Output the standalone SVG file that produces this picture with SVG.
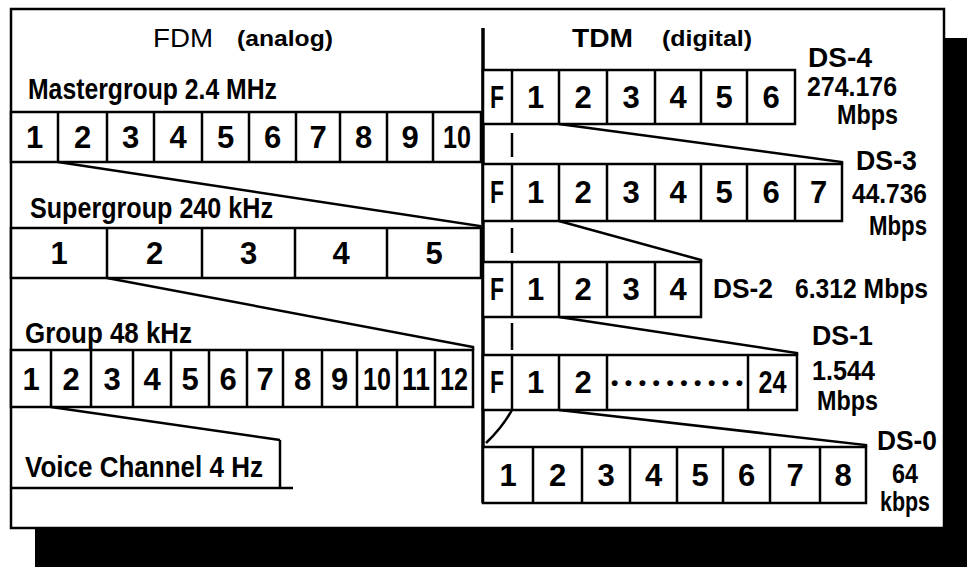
<svg xmlns="http://www.w3.org/2000/svg" width="967" height="567" viewBox="0 0 967 567">
<style>
.t{font-family:"Liberation Sans Narrow","Liberation Sans",Arial,sans-serif;font-weight:bold;fill:#000;font-stretch:condensed}
.d{font-size:31px;text-anchor:middle}
.l{font-size:29px}
.r{font-size:27px}
.h{font-size:26px}
.p{font-size:22px}
.box{fill:#fff;stroke:#000;stroke-width:2.5}
.ln{fill:none;stroke:#000;stroke-width:2.5}
</style>
<rect x="35" y="38" width="932" height="529" fill="#000"/>
<rect x="11" y="9" width="933" height="519" class="box"/>
<line x1="483" y1="28" x2="483" y2="503" stroke="#000" stroke-width="3.5"/>

<g id="fdm-title">
<text class="t h" x="153" y="47" textLength="60" lengthAdjust="spacingAndGlyphs" style="font-weight:normal">FDM</text>
<text class="t p" x="237" y="46" textLength="96" lengthAdjust="spacingAndGlyphs">(analog)</text>
</g>
<g id="tdm-title">
<text class="t h" x="572" y="47" textLength="61" lengthAdjust="spacingAndGlyphs">TDM</text>
<text class="t p" x="662" y="46" textLength="90" lengthAdjust="spacingAndGlyphs">(digital)</text>
</g>

<g id="mastergroup">
<text class="t l" x="28" y="99" textLength="249" lengthAdjust="spacingAndGlyphs">Mastergroup 2.4 MHz</text>
<rect x="11" y="112" width="470" height="50" class="box"/>
<path class="ln" d="M58 112V162M107 112V162M154 112V162M202 112V162M249 112V162M296 112V162M340 112V162M387 112V162M433 112V162"/>
<g class="t d">
<text x="34.5" y="148">1</text><text x="82.5" y="148">2</text><text x="130.5" y="148">3</text><text x="178" y="148">4</text><text x="225.5" y="148">5</text><text x="272.5" y="148">6</text><text x="318" y="148">7</text><text x="363.5" y="148">8</text><text x="410" y="148">9</text><text x="457" y="148" textLength="28" lengthAdjust="spacingAndGlyphs">10</text>
</g>
</g>

<g id="supergroup">
<text class="t l" x="30" y="218" textLength="243" lengthAdjust="spacingAndGlyphs">Supergroup  240 kHz</text>
<rect x="11" y="228" width="470" height="50" class="box"/>
<path class="ln" d="M107 228V278M202 228V278M295 228V278M387 228V278"/>
<g class="t d">
<text x="59" y="264">1</text><text x="154.5" y="264">2</text><text x="248.5" y="264">3</text><text x="341" y="264">4</text><text x="434" y="264">5</text>
</g>
</g>

<g id="group">
<text class="t l" x="25" y="343" textLength="167" lengthAdjust="spacingAndGlyphs">Group  48 kHz</text>
<rect x="11" y="350" width="462" height="57" class="box"/>
<path class="ln" d="M51 350V407M91 350V407M133 350V407M171 350V407M209 350V407M247 350V407M283 350V407M322 350V407M357 350V407M397 350V407M435 350V407"/>
<g class="t d">
<text x="31" y="390">1</text><text x="71" y="390">2</text><text x="112" y="390">3</text><text x="152" y="390">4</text><text x="190" y="390">5</text><text x="228" y="390">6</text><text x="265" y="390">7</text><text x="302.5" y="390">8</text><text x="339.5" y="390">9</text><text x="377" y="390" textLength="28" lengthAdjust="spacingAndGlyphs">10</text><text x="416" y="390" textLength="28" lengthAdjust="spacingAndGlyphs">11</text><text x="454" y="390" textLength="28" lengthAdjust="spacingAndGlyphs">12</text>
</g>
</g>

<g id="voice-channel">
<path class="ln" d="M280 440V488M11 488H293"/>
<text class="t l" x="25" y="477" textLength="238" lengthAdjust="spacingAndGlyphs">Voice Channel  4 Hz</text>
</g>

<g id="ds4">
<rect x="483" y="70" width="312" height="54" class="box"/>
<path class="ln" d="M512 70V124M559 70V124M607 70V124M655 70V124M701 70V124M747 70V124"/>
<g class="t d">
<text x="497" y="108" textLength="14" lengthAdjust="spacingAndGlyphs">F</text><text x="535.5" y="108">1</text><text x="583" y="108">2</text><text x="631" y="108">3</text><text x="678" y="108">4</text><text x="724" y="108">5</text><text x="771" y="108">6</text>
</g>
<g class="t r">
<text x="808" y="67" textLength="64" lengthAdjust="spacingAndGlyphs">DS-4</text>
<text x="807" y="96" textLength="90" lengthAdjust="spacingAndGlyphs">274.176</text>
<text x="837" y="124" textLength="61" lengthAdjust="spacingAndGlyphs">Mbps</text>
</g>
</g>

<g id="ds3">
<rect x="483" y="164" width="359" height="57" class="box"/>
<path class="ln" d="M512 164V221M559 164V221M607 164V221M655 164V221M701 164V221M747 164V221M795 164V221"/>
<g class="t d">
<text x="497" y="203" textLength="14" lengthAdjust="spacingAndGlyphs">F</text><text x="535.5" y="203">1</text><text x="583" y="203">2</text><text x="631" y="203">3</text><text x="678" y="203">4</text><text x="724" y="203">5</text><text x="771" y="203">6</text><text x="818.5" y="203">7</text>
</g>
<g class="t r">
<text x="856" y="170" textLength="61" lengthAdjust="spacingAndGlyphs">DS-3</text>
<text x="852" y="203" textLength="75" lengthAdjust="spacingAndGlyphs">44.736</text>
<text x="869" y="235" textLength="58" lengthAdjust="spacingAndGlyphs">Mbps</text>
</g>
</g>

<g id="ds2">
<rect x="483" y="262" width="218" height="55" class="box"/>
<path class="ln" d="M512 262V317M559 262V317M607 262V317M655 262V317"/>
<g class="t d">
<text x="497" y="300" textLength="14" lengthAdjust="spacingAndGlyphs">F</text><text x="535.5" y="300">1</text><text x="583" y="300">2</text><text x="631" y="300">3</text><text x="678" y="300">4</text>
</g>
<g class="t r">
<text x="713" y="298" textLength="60" lengthAdjust="spacingAndGlyphs">DS-2</text>
<text x="795" y="298" textLength="133" lengthAdjust="spacingAndGlyphs">6.312 Mbps</text>
</g>
</g>

<g id="ds1">
<rect x="483" y="355" width="314" height="55" class="box"/>
<path class="ln" d="M512 355V410M559 355V410M607 355V410M748 355V410"/>
<g class="t d">
<text x="497" y="393" textLength="14" lengthAdjust="spacingAndGlyphs">F</text><text x="535.5" y="393">1</text><text x="583" y="393">2</text><text x="772.5" y="393" textLength="28" lengthAdjust="spacingAndGlyphs">24</text>
</g>
<text class="t" x="611" y="390" style="font-size:21px" textLength="132" lengthAdjust="spacing">••••••••••</text>
<g class="t r">
<text x="812" y="345" textLength="61" lengthAdjust="spacingAndGlyphs">DS-1</text>
<text x="812" y="380" textLength="63" lengthAdjust="spacingAndGlyphs">1.544</text>
<text x="817" y="410" textLength="61" lengthAdjust="spacingAndGlyphs">Mbps</text>
</g>
</g>

<g id="ds0">
<rect x="483" y="447" width="383" height="56" class="box"/>
<path class="ln" d="M533 447V503M582 447V503M630 447V503M677 447V503M723 447V503M770 447V503M820 447V503"/>
<g class="t d">
<text x="508" y="486">1</text><text x="557.5" y="486">2</text><text x="606" y="486">3</text><text x="653.5" y="486">4</text><text x="700" y="486">5</text><text x="746.5" y="486">6</text><text x="795" y="486">7</text><text x="843" y="486">8</text>
</g>
<g class="t r">
<text x="877" y="450" textLength="60" lengthAdjust="spacingAndGlyphs">DS-0</text>
<text x="892" y="483" textLength="26" lengthAdjust="spacingAndGlyphs">64</text>
<text x="880" y="511" textLength="50" lengthAdjust="spacingAndGlyphs">kbps</text>
</g>
</g>

<g id="connectors" class="ln">
<path d="M58 162L480 226V228"/>
<path d="M107 278L473 347V350"/>
<path d="M51 407L280 440"/>
<path d="M559 124L842 162V164"/>
<path d="M559 221L701 260V262"/>
<path d="M559 317L797 353V355"/>
<path d="M559 410L866 445V447"/>
<path d="M512 133V157M512 228V253M512 323V350"/>
<path d="M512 410Q502 428 486 443"/>
</g>
</svg>
